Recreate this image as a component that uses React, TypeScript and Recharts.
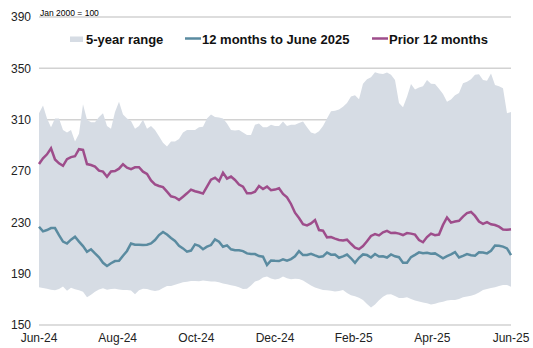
import React from 'react';
import { ComposedChart, Area, Line, XAxis, YAxis, CartesianGrid, Legend } from 'recharts';

const monthLabels = ['Jun-24', 'Aug-24', 'Oct-24', 'Dec-24', 'Feb-25', 'Apr-25', 'Jun-25'];
const yTicks = [150, 190, 230, 270, 310, 350, 390];
const seriesNames = ['5-year range', '12 months to June 2025', 'Prior 12 months'];
const indexNote = 'Jan 2000 = 100';

const rangeHigh = [
  315, 321, 311, 304, 311, 311, 302, 300, 302, 293,
  299, 322, 310, 308, 308, 312, 315, 305, 303, 316,
  324, 314, 311, 309, 303, 305, 310, 303, 305, 302,
  297, 292, 289, 293, 293, 295, 300, 302, 302, 302,
  304, 304.5, 311, 314, 312, 311.7, 311, 307, 302, 301.5,
  302, 300, 298, 298, 306, 307, 304, 304, 306, 305,
  305, 308.5, 305, 306, 306, 307.5, 308.5, 304, 300, 299,
  301, 305, 311, 316.5, 317, 318, 320, 323, 328, 329,
  326, 338, 341.4, 343, 347, 346, 345.6, 346.7, 345, 341,
  323, 319.6, 327.8, 337.8, 333.5, 335, 336, 341, 338, 337.8,
  334, 330, 324, 325.7, 329, 330.7, 338.4, 339.6, 341.5, 345,
  345.3, 341, 340.4, 346, 337, 336, 334.5, 315, 316,
];

const rangeLow = [
  179.4, 178.8, 178.2, 177.5, 177, 178, 180, 176.7, 179, 177.8,
  177, 176, 171.6, 173.5, 176, 177.7, 178.6, 177.5, 178, 178.3,
  177.7, 177.3, 177.3, 176.8, 174, 177, 178.3, 178, 177, 176.4,
  177, 178.8, 180.4, 180.4, 181.4, 182.4, 183.3, 183.7, 184.3, 184.3,
  184, 184.6, 184.2, 183.8, 183.8, 183.3, 182.4, 181.7, 181, 180.4,
  179.5, 178, 178.3, 180.7, 183.8, 184.8, 187, 187.8, 186.3, 185.4,
  186, 187.7, 186.4, 185.6, 186.1, 185.8, 184.6, 182.7, 180.8, 179.3,
  178.2, 177.3, 177, 176.6, 176.2, 176.4, 177.3, 175, 173.2, 172.4,
  171.2, 169.5, 166.4, 163.6, 166, 169.2, 172, 173.7, 173.9, 172.6,
  171, 171.1, 171.6, 170.2, 169.1, 168.4, 167.6, 166.9, 166, 166.5,
  167.6, 168.2, 169, 169.5, 169.5, 170.2, 171.6, 172.2, 172.8, 173.8,
  175.4, 177.3, 178, 178.8, 179.5, 180.3, 181.2, 181.2, 179.9,
];

const current = [
  226.6, 223, 224, 225.5, 225.5, 220, 215, 213.5, 216.5, 218.8,
  215, 211.5, 207.1, 209, 205.8, 202.8, 198.5, 196, 198.1, 199.8,
  200, 204, 207.7, 213.5, 212.5, 212.5, 212.3, 212.5, 213.5, 216.2,
  220.1, 222.5, 220.5, 217.8, 215.5, 211.8, 209.7, 207.1, 208, 212.8,
  211.7, 209, 211, 212.3, 216.7, 214.9, 211, 212, 209, 208.3,
  208.2, 207.6, 205.8, 205.3, 205.3, 203.7, 203.2, 196.8, 200.3, 200,
  199.8, 201.2, 200.1, 201.4, 203.5, 207.5, 204.5, 204.5, 205.5, 204.2,
  203, 203.5, 206.5, 204.8, 205, 202.4, 203.5, 204.9, 202, 198.4,
  202.4, 205, 204.5, 202.6, 205.3, 203.4, 203.6, 202.6, 205, 203.5,
  202.8, 198.6, 198.6, 202.9, 204.7, 206.6, 205.9, 206.3, 205.5, 205.8,
  204, 202, 203.7, 205.1, 206.8, 202.6, 203.8, 205.3, 204.3, 204,
  206.6, 206.5, 205.8, 207.8, 212, 211.8, 211.1, 209.7, 204.5,
];

const prior = [
  275.4, 279.9, 283, 287.7, 279, 276, 274, 279.2, 280.8, 281.5,
  287, 286.4, 275.4, 274.7, 273.5, 270.3, 269.5, 265.5, 269.7, 270,
  271.8, 275.3, 272.6, 271.5, 272.9, 272.9, 269.5, 267.7, 262.6, 259.6,
  258.3, 257.4, 253.9, 250.3, 249.5, 247.5, 250, 252.6, 255.5, 254.2,
  253.4, 252.4, 257.8, 263.3, 264.8, 262, 268.7, 264.1, 265.7, 263,
  259.5, 257.8, 252.6, 252.6, 253.9, 258.3, 256, 257.8, 255, 255.5,
  256.5, 252.1, 249.5, 244.3, 237.5, 233.4, 228.5, 227.6, 229.2, 231.8,
  224, 223.5, 218.3, 218.5, 217.3, 216.2, 215.8, 216.5, 213.3, 210.3,
  209.1, 211.5, 215.2, 219.4, 220.9, 219.8, 222.2, 223.4, 221.7, 221.9,
  221.2, 220.1, 221.6, 221.2, 220.4, 216.2, 214.5, 218.5, 221.2, 220,
  220.5, 228, 233.8, 229.8, 230.6, 231.2, 234.5, 237.2, 238.1, 235,
  230.6, 228.8, 230.1, 228.5, 227.9, 226.6, 224.4, 224.2, 224.6,
];

const BAND = '#d6dce4';
const BLUE = '#5a8ba0';
const PURPLE = '#9e4d8b';
const FONT = '"Liberation Sans", Arial, sans-serif';

const lastIndex = rangeHigh.length - 1;
const data = rangeHigh.map((h, i) => ({
  i,
  range: [rangeLow[i], h],
  current: current[i],
  prior: prior[i],
}));
const xTicks = monthLabels.map((_, k) => (k * lastIndex) / (monthLabels.length - 1));

const LegendContent = () => (
  <svg width={533} height={50} style={{ display: 'block', overflow: 'visible' }}>
    <text x={40} y={16} fontSize={8.5} fontFamily={FONT} fill="#000">{indexNote}</text>
    <rect x={70} y={36.5} width={13} height={5.5} fill={BAND} />
    <text x={86} y={43.5} fontSize={13} fontWeight="bold" fontFamily={FONT} fill="#111">{seriesNames[0]}</text>
    <line x1={185} x2={201} y1={38.5} y2={38.5} stroke={BLUE} strokeWidth={2.5} />
    <text x={202} y={43.5} fontSize={13} fontWeight="bold" fontFamily={FONT} fill="#111">{seriesNames[1]}</text>
    <line x1={372} x2={388} y1={38.5} y2={38.5} stroke={PURPLE} strokeWidth={2.5} />
    <text x={389} y={43.5} fontSize={13} fontWeight="bold" fontFamily={FONT} fill="#111">{seriesNames[2]}</text>
  </svg>
);

export default function App() {
  return (
    <div style={{ position: 'absolute', left: 0, top: 0, width: 533, height: 348, background: '#fff' }}>
      <ComposedChart
        width={533}
        height={348}
        data={data}
        margin={{ top: 17, right: 22, bottom: 0, left: 0 }}
        style={{ fontFamily: FONT }}
      >
        <CartesianGrid vertical={false} stroke="#d2d2d2" strokeWidth={1.5} />
        <XAxis
          dataKey="i"
          type="number"
          domain={[0, lastIndex]}
          ticks={xTicks}
          interval={0}
          tickFormatter={(v: number) => monthLabels[Math.round((v * (monthLabels.length - 1)) / lastIndex)]}
          axisLine={false}
          tickLine={false}
          height={23}
          tick={{ fontSize: 12, fill: '#222', fontFamily: FONT }}
        />
        <YAxis
          type="number"
          domain={[150, 390]}
          ticks={yTicks}
          interval={0}
          axisLine={false}
          tickLine={false}
          width={39}
          tick={{ fontSize: 12, fill: '#222', fontFamily: FONT }}
        />
        <Legend
          verticalAlign="middle"
          layout="horizontal"
          content={<LegendContent />}
          wrapperStyle={{ position: 'absolute', top: 0, left: 0, width: 533, height: 50 }}
        />
        <Area
          dataKey="range"
          type="linear"
          fill={BAND}
          fillOpacity={1}
          stroke="none"
          isAnimationActive={false}
          dot={false}
          activeDot={false}
        />
        <Line dataKey="prior" type="linear" stroke={PURPLE} strokeWidth={2.5} dot={false} isAnimationActive={false} />
        <Line dataKey="current" type="linear" stroke={BLUE} strokeWidth={2.5} dot={false} isAnimationActive={false} />
      </ComposedChart>
    </div>
  );
}
